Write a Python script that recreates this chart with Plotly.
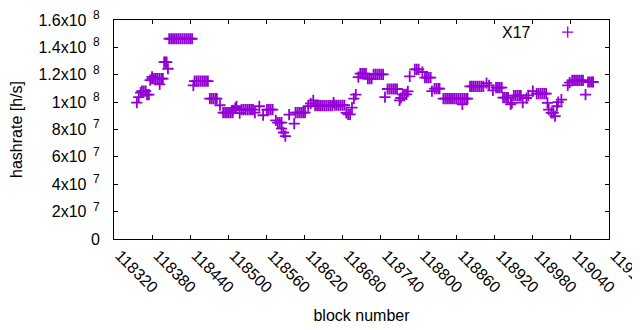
import plotly.graph_objects as go

# ---- data ----
block_number = [
    118356, 118359, 118362,
    118364, 118367, 118370,
    118372, 118375,
    118377, 118380, 118380, 118383, 118386, 118389, 118392, 118392, 118395, 118397,
    118399, 118401, 118403, 118405,
    118407, 118410, 118413, 118416, 118419, 118422, 118425, 118428, 118431, 118434, 118437, 118440, 118443,
    118445, 118447, 118450, 118453, 118456, 118459, 118462, 118465, 118468,
    118471, 118474, 118477, 118480, 118482,
    118487,
    118492, 118495, 118498, 118501, 118504, 118507, 118507, 118511, 118513,
    118518, 118521, 118524, 118527, 118530, 118533, 118536, 118539,
    118542, 118549, 118555,
    118561, 118564, 118567, 118570,
    118575, 118578, 118581, 118584,
    118584, 118587, 118590,
    118596, 118604,
    118606, 118609, 118612, 118615, 118618, 118621,
    118626, 118630, 118634,
    118637, 118640, 118643, 118646, 118649, 118652, 118655, 118658, 118661, 118664,
    118666, 118668, 118671, 118674, 118677, 118680, 118683,
    118686, 118689, 118692,
    118695, 118698, 118701,
    118705, 118708, 118711, 118714, 118717,
    118720, 118723, 118726,
    118729, 118732, 118735, 118738, 118741, 118744,
    118747,
    118751, 118754, 118757, 118760, 118763, 118766,
    118770, 118772, 118775, 118778, 118781, 118783,
    118786, 118794, 118797, 118800, 118806,
    118810, 118813, 118816, 118819,
    118821, 118825, 118828, 118831, 118833,
    118839, 118842, 118845, 118848, 118851, 118854, 118857, 118860, 118863, 118866, 118869, 118869, 118872, 118875, 118877,
    118881, 118884, 118887, 118890, 118893, 118896, 118899, 118902, 118907, 118911,
    118917, 118922, 118925, 118928, 118931,
    118933, 118936, 118939, 118941,
    118945, 118947,
    118950, 118953, 118956, 118959, 118961,
    118964, 118970, 118973,
    118980, 118986, 118989, 118992, 118995, 118998, 119001,
    119003, 119005, 119009, 119012, 119015,
    119018, 119020, 119025,
    119035, 119038,
    119042, 119045, 119048, 119051, 119054, 119057, 119059,
    119063,
    119067, 119070, 119073, 119075,
]

# hashrate in millions of h/s (MH/s)
hashrate_mh = [
    99.6, 103.7, 107.0,
    108.1, 108.1, 108.1,
    105.5, 105.5,
    116.0, 117.2, 118.5, 117.2, 117.2, 117.2, 117.2, 113.0, 117.2, 117.2,
    129.2, 129.2, 129.2, 124.4,
    146.3, 146.3, 146.3, 146.3, 146.3, 146.3, 146.3, 146.3, 146.3, 146.3, 146.3, 146.3, 146.3,
    112.2, 115.4, 115.4, 115.4, 115.4, 115.4, 115.4, 115.4, 115.4,
    102.5, 102.5, 102.5, 102.5, 102.5,
    97.7,
    92.3, 92.3, 92.3, 92.3, 92.3, 92.3, 94.0, 95.7, 97.0,
    92.0, 94.5, 94.5, 94.5, 94.5, 94.5, 94.5, 94.5,
    92.3, 97.0, 90.4,
    94.5, 94.5, 94.5, 94.5,
    86.7, 85.0, 85.0, 85.0,
    80.7, 77.8, 75.1,
    90.9, 84.3,
    92.3, 92.3, 92.3, 92.3, 92.3, 92.3,
    97.0, 99.0, 101.3,
    97.5, 97.5, 97.5, 97.5, 97.5, 97.5, 97.5, 97.5, 97.5, 97.5,
    99.6, 97.7, 97.7, 97.7, 97.7, 97.7, 97.7,
    92.1, 91.1, 91.1,
    96.0, 102.5, 105.5,
    118.3, 120.8, 120.8, 120.8, 120.8,
    117.1, 117.1, 117.1,
    120.3, 120.3, 120.3, 120.3, 120.3, 120.3,
    103.7,
    109.6, 109.6, 109.6, 109.6, 109.6, 109.6,
    101.3, 103.0, 105.7, 105.7, 105.7, 107.9,
    118.8, 123.9, 123.9, 123.9, 122.0,
    117.9, 117.9, 117.9, 117.9,
    108.1, 109.8, 109.8, 109.8, 109.8,
    102.5, 102.5, 102.5, 102.5, 102.5, 102.5, 102.5, 102.5, 102.5, 102.5, 98.4, 102.5, 102.5, 102.5, 102.5,
    111.5, 111.5, 111.5, 111.5, 111.5, 111.5, 111.5, 111.5, 113.9, 112.2,
    108.6, 110.6, 110.6, 110.6, 110.6,
    103.3, 103.3, 103.3, 103.3,
    98.4, 99.5,
    104.7, 104.7, 104.7, 104.7, 104.7,
    99.6, 103.0, 105.0,
    108.1, 106.2, 106.2, 106.2, 106.2, 106.2, 106.2,
    99.4, 94.5, 92.1, 92.1, 89.7,
    97.0, 100.0, 101.8,
    112.2, 114.2,
    115.9, 115.9, 115.9, 115.9, 115.9, 115.9, 115.9,
    105.5,
    114.7, 114.7, 114.7, 114.7,
]
assert len(block_number) == len(hashrate_mh)
hashrate = [v * 1e6 for v in hashrate_mh]

x_ticks = [118320, 118380, 118440, 118500, 118560, 118620, 118680,
           118740, 118800, 118860, 118920, 118980, 119040, 119100]
y_ticks = [0, 2e7, 4e7, 6e7, 8e7, 1e8, 1.2e8, 1.4e8, 1.6e8]
y_tick_mantissa = ["0", "2", "4", "6", "8", "1", "1.2", "1.4", "1.6"]
y_tick_exponent = [None, 7, 7, 7, 7, 8, 8, 8, 8]
series_name = "X17"


def sci_label(m, e):
    if e is None:
        return m
    return f"{m}x10<sup><span style='font-size:12px'>  {e}</span></sup>"


y_tick_text = [sci_label(m, e) for m, e in zip(y_tick_mantissa, y_tick_exponent)]

COLOR = "#9400d3"
FONT = "Liberation Sans, Arial, sans-serif"
marker_style = dict(symbol="cross-thin", size=8, color=COLOR,
                    line=dict(width=1.8, color=COLOR))

fig = go.Figure()
fig.add_trace(go.Scatter(x=block_number, y=hashrate, mode="markers",
                         marker=marker_style, name=series_name,
                         showlegend=False, cliponaxis=True))

# legend sample (gnuplot style: text then symbol) drawn on an overlay frame
fig.add_trace(go.Scatter(x=[0.9166], y=[0.9444], mode="markers",
                         marker=dict(symbol="cross-thin", size=8, color=COLOR,
                                     line=dict(width=1.3, color=COLOR)),
                         xaxis="x2", yaxis="y2",
                         showlegend=False, hoverinfo="skip"))
fig.add_annotation(x=0.8465, y=0.9444, xref="paper", yref="paper",
                   text=series_name, showarrow=False, xanchor="right",
                   yanchor="middle", font=dict(size=16, color="black", family=FONT))

axis_common = dict(showline=True, linecolor="black", linewidth=1, mirror="ticks",
                   ticks="inside", ticklen=4, tickwidth=1, tickcolor="black",
                   showgrid=False, zeroline=False, automargin=False,
                   ticklabeloverflow="allow",
                   tickfont=dict(size=16, color="black", family=FONT))

# page body adds an 8px offset, so the figure is 8px smaller on each axis
fig.update_layout(
    width=632, height=322,
    margin=dict(l=106, r=31, t=12, b=91),
    paper_bgcolor="white", plot_bgcolor="white",
    font=dict(family=FONT, size=16, color="black"),
    showlegend=False,
    xaxis=dict(range=[118320, 119100], tickmode="array", tickvals=x_ticks,
               ticktext=[str(t) for t in x_ticks], tickangle=45,
               ticklabelshift=6,
               title=dict(text="block number", standoff=14,
                          font=dict(size=16, family=FONT)),
               **axis_common),
    yaxis=dict(range=[0, 1.6e8], tickmode="array", tickvals=y_ticks,
               ticktext=y_tick_text, ticklabelstandoff=10,
               title=dict(text="hashrate [h/s]", standoff=14,
                          font=dict(size=16, family=FONT)),
               **axis_common),
    xaxis2=dict(overlaying="x", range=[0, 1], visible=False),
    yaxis2=dict(overlaying="y", range=[0, 1], visible=False),
)

fig.write_html("out.html")
